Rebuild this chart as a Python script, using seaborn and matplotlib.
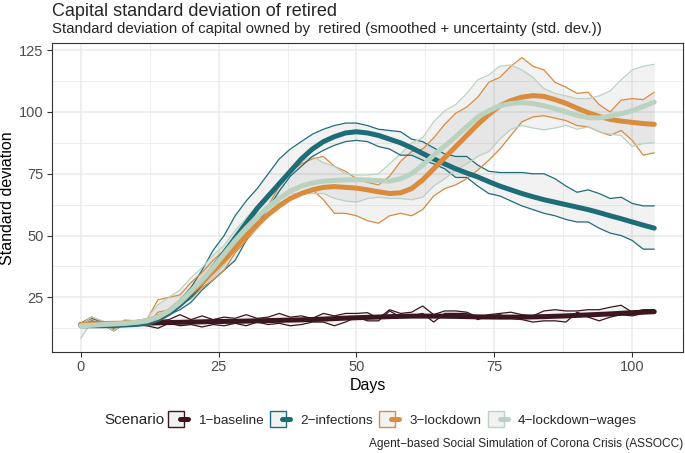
import pandas as pd
import seaborn as sns
import matplotlib.pyplot as plt
from matplotlib.lines import Line2D
from matplotlib.legend_handler import HandlerTuple
from matplotlib.ticker import MultipleLocator

# --- scenarios and colours
scenarios = ['1\u2212baseline', '2\u2212infections', '3\u2212lockdown', '4\u2212lockdown\u2212wages']
colors = ['#3B161C', '#1D6D79', '#D98B3E', '#BAD3C1']

# --- every 2 days
days = list(range(0, 105, 2))

# raw mean +/- sd
base_up = [14.5, 17, 15, 13, 15.5, 15, 14.5, 15.5, 16, 18, 16, 17.5, 16, 17, 16.5, 18, 16.5, 17,
           18.5, 17, 17.5, 16.5, 18.5, 17.5, 18.5, 18.5, 18.8, 16.5, 20, 18.5, 19, 21.5, 18, 19.5,
           19.5, 19, 17, 18, 18.5, 19, 18, 17.5, 19.5, 20, 19.5, 19.5, 20, 20, 21, 21.8, 19, 20, 20]
base_lo = [13, 15.5, 14, 11.5, 14.5, 14, 13.5, 12.5, 14.5, 13.5, 14, 13, 14, 13.5, 14.5, 13.5, 15, 14,
           14.5, 13.5, 14, 15, 15, 13.5, 15, 17, 15.5, 15.5, 19.5, 17, 17.5, 18.5, 15, 18.5,
           18.5, 18.5, 16, 17.5, 18, 16.5, 16, 15, 15.5, 15.5, 15, 19, 17, 15.5, 17, 18, 17.5, 18.5, 19.5]

inf_up = [14.5, 16.5, 15, 12.5, 15.5, 15, 14.5, 17, 20, 24, 29, 36, 44, 50, 58, 64, 69, 75,
          81, 85, 88, 91, 93, 94.5, 95.5, 95.5, 94.5, 93, 92.5, 92, 89, 88, 85.5, 83,
          82, 82, 78.5, 76, 75.5, 75.5, 75.5, 75, 75, 73, 70, 67.5, 68.5, 67, 65, 65.5, 63, 62, 62]
inf_lo = [13, 15, 14, 11.5, 14.5, 14, 13.5, 16.5, 18, 20, 23, 28, 32, 36, 40, 48, 55, 61,
          68, 74, 78, 82, 84.5, 86.5, 88, 88.5, 88, 86, 85, 82.5, 82.5, 80.5, 79, 77,
          73.5, 73.5, 70, 67, 66, 64, 62, 60.5, 59, 58, 56.5, 55.5, 55.5, 53, 51, 50, 48, 44.5, 44.5]

lock_up = [14.5, 17, 15, 13, 15.5, 15.5, 16, 24, 25, 26, 31, 35, 40, 44, 49, 54, 58, 62,
           70, 76, 79, 81, 82, 78, 76, 73, 71.5, 70.5, 74, 80, 84, 85, 89.5, 95,
           99.5, 102, 106, 112, 114, 118.5, 122, 118.5, 117, 112, 110, 107.5, 108, 103, 100, 104.8, 105.4, 105, 108]
lock_lo = [13, 15.5, 14, 12, 14.5, 14, 13.5, 19, 20, 22, 24.5, 29, 32, 36, 43, 48, 53, 58,
           63, 65.5, 67.5, 68.5, 64.5, 59, 59, 58, 56, 55, 58, 59, 58, 60.5, 66, 69,
           70.5, 73, 76.5, 80.5, 85, 90.5, 96, 98, 98.5, 97.5, 96.5, 94.5, 94, 92, 90.5, 92.5, 88.5, 82.5, 83.5]

wage_up = [14, 17, 15.5, 13, 16, 15.5, 16.5, 22, 25, 28, 33, 37, 42, 46, 52, 57, 62, 67,
           71, 76, 80, 82, 79.5, 78, 75, 74.5, 74.5, 75, 79, 83, 87.5, 89.5, 96, 100.5,
           103, 107.5, 113, 115, 118.5, 119, 117, 114, 109.5, 107.5, 106.5, 105.4, 105.4, 106.5, 108.5, 113, 117, 118.5, 119.3]
wage_lo = [8.5, 15, 14, 11.5, 14.5, 14, 14, 18, 19.5, 23, 26, 30, 33, 38, 44, 49, 53, 59,
           64, 67, 67, 67, 67, 65, 64, 63.5, 65, 65.5, 65, 65, 64.5, 65.5, 70, 73,
           76.5, 79, 82, 84, 89, 93, 94.5, 93.5, 92.8, 93.5, 94.6, 93, 94, 92, 91, 90.5, 86, 87.2, 87.6]

# smoothed means
base_mean = [14, 14.1, 14.2, 14.3, 14.4, 14.5, 14.6, 14.7, 14.8, 14.9, 15, 15.1, 15.2, 15.25, 15.3,
             15.4, 15.5, 15.6, 15.7, 15.8, 15.9, 16.05, 16.2, 16.4, 16.6, 16.75, 16.9, 17.05, 17.2,
             17.3, 17.4, 17.4, 17.4, 17.35, 17.3, 17.2, 17.1, 17.05, 17, 17, 17, 17.1, 17.2, 17.35,
             17.5, 17.7, 17.9, 18.1, 18.3, 18.55, 18.8, 19, 19.2]
inf_mean = [13.5, 13.5, 13.5, 13.6, 13.8, 14, 14.5, 16, 18.5, 22, 26, 31, 37, 43, 49, 55, 61, 66,
            71, 76, 81, 85, 88, 90, 91.5, 92, 91.5, 90.5, 89, 87.5, 85.5, 83.2, 81, 79, 77, 75.3,
            73.7, 71.8, 70, 68.5, 67, 65.7, 64.5, 63.5, 62.5, 61.5, 60.5, 59.3, 58, 56.8, 55.5, 54.2, 53]
lock_mean = [14, 14.2, 14.4, 14.5, 14.6, 14.9, 15.5, 17, 19.5, 23, 27, 31, 35.5, 40, 45, 50, 54.5,
             58.5, 62, 65, 67, 68.5, 69.5, 69.8, 69.5, 69.2, 68.5, 67.7, 67, 67.3, 69, 72.5, 77,
             81.5, 86, 90.5, 95, 99, 102.5, 104.6, 106, 106.6, 106.3, 105, 103.5, 101.5, 99.7,
             98.2, 97, 96.3, 95.8, 95.3, 95]
wage_mean = [13.5, 13.7, 14, 14.2, 14.5, 14.9, 15.5, 17, 19.5, 23, 27.5, 32, 37, 42.5, 48, 53,
             57.5, 61.5, 65, 68, 70, 71.3, 72, 72.3, 72.5, 72.6, 72.5, 72.2, 72, 73, 75, 78.5,
             82.5, 86.2, 90, 94, 98, 100.5, 102.5, 103.4, 103.8, 103.4, 102.5, 101.3, 100, 98.6,
             97.7, 97.6, 98.3, 99.3, 100.5, 102.2, 104]

uppers = [base_up, inf_up, lock_up, wage_up]
lowers = [base_lo, inf_lo, lock_lo, wage_lo]
means = [base_mean, inf_mean, lock_mean, wage_mean]

df = pd.concat([pd.DataFrame({'day': days, 'scenario': s, 'upper': u, 'lower': l, 'mean': m})
                for s, u, l, m in zip(scenarios, uppers, lowers, means)])

# --- plot
sns.set_style('white')
plt.rcParams['font.family'] = ['Liberation Sans', 'DejaVu Sans']

fig, ax = plt.subplots(figsize=(6.85, 4.53), dpi=100)
fig.subplots_adjust(left=0.076, right=0.997, top=0.904, bottom=0.223)

pal = dict(zip(scenarios, colors))

for s in scenarios:
    d = df[df.scenario == s]
    ax.fill_between(d.day, d.lower, d.upper, color='#808080', alpha=0.1, lw=0, zorder=1)

sns.lineplot(data=df, x='day', y='upper', hue='scenario', palette=pal, lw=0.9,
             estimator=None, legend=False, ax=ax, zorder=2)
sns.lineplot(data=df, x='day', y='lower', hue='scenario', palette=pal, lw=0.9,
             estimator=None, legend=False, ax=ax, zorder=2)
sns.lineplot(data=df, x='day', y='mean', hue='scenario', palette=pal, lw=3.6,
             estimator=None, legend=False, ax=ax, zorder=3)

ax.set_xlim(-5.2, 109.2)
ax.set_ylim(2.9, 127.7)
ax.set_xticks([0, 25, 50, 75, 100])
ax.set_yticks([25, 50, 75, 100, 125])
ax.xaxis.set_minor_locator(MultipleLocator(12.5))
ax.yaxis.set_minor_locator(MultipleLocator(12.5))
ax.grid(which='major', color='#EBEBEB', lw=1.1)
ax.grid(which='minor', color='#EBEBEB', lw=0.6)
ax.set_axisbelow(True)
for sp in ax.spines.values():
    sp.set_color('#333333')
    sp.set_linewidth(0.8)
ax.tick_params(which='major', direction='out', length=3.5, width=0.8, color='#333333',
               labelcolor='#4D4D4D', labelsize=10.5, left=True, bottom=True, pad=2.5)
ax.tick_params(which='minor', length=0)
ax.set_xlabel('Days', fontsize=11.5, color='black', labelpad=3)
ax.set_ylabel('Standard deviation', fontsize=11.5, color='black', labelpad=3)

fig.text(52 / 685, 1 - 16.5 / 453, 'Capital standard deviation of retired', fontsize=13,
         va='baseline', ha='left')
fig.text(52 / 685, 1 - 33 / 453,
         'Standard deviation of capital owned by  retired (smoothed + uncertainty (std. dev.))',
         fontsize=10.8, va='baseline', ha='left')

# --- legend: grey box with coloured border + thick line
handles = [(Line2D([], [], ls='none', marker='s', markersize=12, markerfacecolor='#F2F2F2',
                   markeredgecolor=c, markeredgewidth=1.0),
            Line2D([], [], color=c, lw=3.6)) for c in colors]
fig.text(104 / 685, 1 - 420 / 453, 'Scenario', fontsize=11, va='center', ha='left')
fig.legend(handles, scenarios, loc='center left', bbox_to_anchor=(172 / 685, 1 - 420 / 453),
           ncol=4, frameon=False, fontsize=9.7, handlelength=1.2, handleheight=1.2,
           columnspacing=0.75, handletextpad=0.75, borderaxespad=0, borderpad=0,
           handler_map={tuple: HandlerTuple(ndivide=None, pad=0)})

fig.text(683 / 685, 1 - 447 / 453, 'Agent\u2212based Social Simulation of Corona Crisis (ASSOCC)',
         fontsize=8.6, va='baseline', ha='right')

plt.savefig('out.png', dpi=100)
